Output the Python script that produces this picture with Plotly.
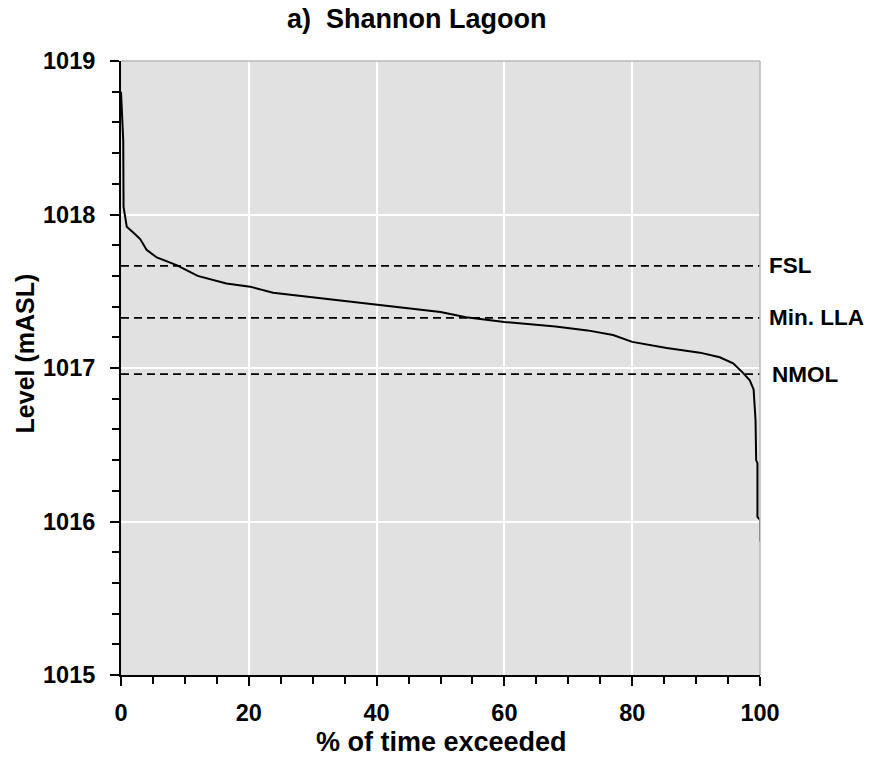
import plotly.graph_objects as go

# ---- data ----
pct_exceeded = [0, 0.3, 0.35, 0.4, 0.5, 0.9, 2.0, 3.0, 4.0, 5.6, 8.7, 12.0, 16.5, 20.2,
                23.8, 30.0, 40.0, 50.0, 54.0, 60.0, 68.0, 73.0, 77.0, 80.0, 85.4, 90.6,
                93.7, 95.8, 97.3, 98.4, 99.0, 99.1, 99.3, 99.4, 99.6, 99.6, 100, 100]
level_masl = [1018.80, 1018.50, 1018.48, 1018.05, 1018.02, 1017.92, 1017.88, 1017.84,
              1017.77, 1017.72, 1017.67, 1017.60, 1017.55, 1017.53, 1017.49, 1017.46,
              1017.41, 1017.365, 1017.33, 1017.30, 1017.27, 1017.245, 1017.215, 1017.17,
              1017.13, 1017.10, 1017.07, 1017.03, 1016.97, 1016.92, 1016.86, 1016.79,
              1016.66, 1016.40, 1016.38, 1016.03, 1016.01, 1015.87]
ref_names = ["FSL", "Min. LLA", "NMOL"]
ref_levels = [1017.665, 1017.326, 1016.96]
x_ticks = [0, 20, 40, 60, 80, 100]
y_ticks = [1015, 1016, 1017, 1018, 1019]

FONT = "Liberation Sans, Arial, sans-serif"

fig = go.Figure()
fig.add_trace(go.Scatter(x=pct_exceeded, y=level_masl, mode="lines",
                         line=dict(color="black", width=2), showlegend=False,
                         hoverinfo="skip"))

shapes = []
annotations = []
for name, lv in zip(ref_names, ref_levels):
    shapes.append(dict(type="line", xref="x", yref="y", x0=0, x1=100, y0=lv, y1=lv,
                       line=dict(color="black", width=1.8, dash="8px,5px")))
    annotations.append(dict(xref="paper", yref="y", x=1, y=lv, xanchor="left",
                            yanchor="middle", xshift=7 if name != "NMOL" else 10,
                            text="<b>%s</b>" % name, showarrow=False,
                            font=dict(family=FONT, size=22.5, color="black")))

# light border top and right
shapes.append(dict(type="line", xref="paper", yref="paper", x0=0, x1=1, y0=1, y1=1,
                   line=dict(color="#b8b8b8", width=1.5)))
shapes.append(dict(type="line", xref="paper", yref="paper", x0=1, x1=1, y0=0, y1=1,
                   line=dict(color="#b8b8b8", width=1.5)))

annotations.append(dict(xref="paper", yref="paper", x=0.463, y=1.068, xanchor="center",
                        yanchor="middle", text="<b>a)  Shannon Lagoon</b>", showarrow=False,
                        font=dict(family=FONT, size=27, color="black")))
annotations.append(dict(xref="paper", yref="paper", x=0.502, y=-0.109, xanchor="center",
                        yanchor="middle", text="<b>% of time exceeded</b>", showarrow=False,
                        font=dict(family=FONT, size=27, color="black")))
annotations.append(dict(xref="paper", yref="paper", x=-0.150, y=0.524, xanchor="center",
                        yanchor="middle", text="<b>Level (mASL)</b>", showarrow=False,
                        textangle=-90,
                        font=dict(family=FONT, size=25, color="black")))

fig.update_layout(
    width=872, height=758,
    margin=dict(l=121, r=112, t=61, b=83),
    paper_bgcolor="white", plot_bgcolor="#e1e1e1",
    shapes=shapes, annotations=annotations,
    font=dict(family=FONT, color="black"),
)
fig.update_xaxes(range=[0, 100], tickvals=x_ticks, ticktext=["<b>%d</b>" % v for v in x_ticks],
                 showline=True, linecolor="black", linewidth=2,
                 ticks="outside", ticklen=9, tickwidth=2, tickcolor="black",
                 showgrid=True, gridcolor="white", gridwidth=2, zeroline=False,
                 tickfont=dict(family=FONT, size=23.5, color="black"),
                 ticklabelstandoff=7,
                 minor=dict(dtick=5, ticks="outside", ticklen=7, tickwidth=1.5,
                            tickcolor="black", showgrid=False))
fig.update_yaxes(range=[1015, 1019], tickvals=y_ticks, ticktext=["<b>%d</b>" % v for v in y_ticks],
                 showline=True, linecolor="black", linewidth=2,
                 ticks="outside", ticklen=9, tickwidth=2, tickcolor="black",
                 showgrid=True, gridcolor="white", gridwidth=2, zeroline=False,
                 tickfont=dict(family=FONT, size=23.5, color="black"),
                 ticklabelstandoff=10,
                 minor=dict(dtick=0.2, ticks="outside", ticklen=7, tickwidth=1.5,
                            tickcolor="black", showgrid=False))

fig.write_html("out.html")
